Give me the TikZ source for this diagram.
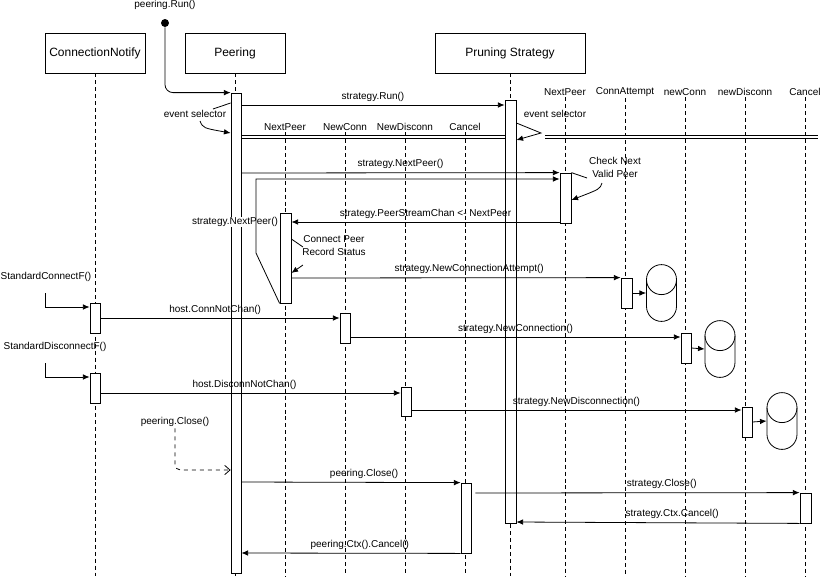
\documentclass[tikz,border=0pt]{standalone}
\usepackage{fontspec}
\setmainfont{Liberation Sans}
\usetikzlibrary{positioning,fit,arrows.meta}

% Datenbank-Zylinder um einen benannten Knoten
\newcommand{\dbdraw}[1]{%
    \draw ([shift={(-15,15)}]#1.north) -- ([shift={(-15,-15)}]#1.south)
        arc[start angle=180, end angle=0, radius=15] -- ([shift={(15,15)}]#1.north);
    \draw ([shift={(0,15)}]#1.north) circle[radius=15];}

\begin{document}
\begin{tikzpicture}[x=0.75pt, y=-0.75pt, line width=0.6pt,
        every node/.style={font=\fontsize{7.5}{9.7}\selectfont, inner sep=1pt},
        head/.style={draw, minimum width=75pt, minimum height=30pt, font=\fontsize{9}{11}\selectfont},
        act/.style={draw, fill=white, inner sep=0pt},
        life/.style={dash pattern=on 3pt off 2.2pt, line width=0.5pt},
        msg/.style={-{Latex[length=5pt,width=4.2pt]}},
        lbl/.style={above=1.5pt},
        dbl/.style={double, double distance=1.8pt},
        dbbox/.style={minimum width=22.5pt, minimum height=42pt, inner sep=0pt}]
    \useasboundingbox (0,0) rectangle (836,576);

    % Kopfboxen und Lebenslinien
    \node[head] (cn) at (95,53) {ConnectionNotify};
    \node[head] (peering) at (235,53) {Peering};
    \node[head, minimum width=112.5pt] (strat) at (510,53) {Pruning Strategy};
    \foreach \n in {cn, peering, strat} { \draw[life] (\n.south) -- (\n.south |- 0,576); }

    \foreach \n/\x/\t in {pNext/285/NextPeer, pConn/345/NewConn, pDisc/405/NewDisconn, pCanc/465/Cancel} {
        \node (\n) at (\x,127) {\t};
        \draw[life] (\n.south) -- (\n.south |- 0,576);
    }
    \foreach \n/\x/\t in {sNext/565/NextPeer, sAtt/625/ConnAttempt, sConn/685/newConn, sDisc/745/newDisconn, sCanc/805/Cancel} {
        \node (\n) at (\x,92) {\t};
        \draw[life] (\n.south) -- (\n.south |- 0,576);
    }

    % Event-Kanaele
    \coordinate (dblStart) at (545,137);
    \coordinate (dblEnd) at (818,137);
    \draw[dbl] (241,137) -- (505,137);
    \draw[dbl] (dblStart) -- (dblEnd);

    % Aktivierungen
    \node[act, fit={(231,93) (241,573)}] (pAct) {};
    \node[act, fit={(505,100) (516,523)}] (sAct) {};
    \node[act, fit={(560,173) (571,223)}] (sNextAct) {};
    \node[act, fit={(280,213) (291,303)}] (pNextAct) {};
    \node[act, fit={(621,278) (632,308)}] (attAct) {};
    \node[act, fit={(90,303) (100,333)}] (cAct1) {};
    \node[act, fit={(340,313) (350,343)}] (pConnAct) {};
    \node[act, fit={(681,333) (691,363)}] (connAct) {};
    \node[act, fit={(90,373) (100,403)}] (cAct2) {};
    \node[act, fit={(401,387) (411,416)}] (pDiscAct) {};
    \node[act, fit={(742,407) (752,437)}] (discAct) {};
    \node[act, fit={(461,483) (471,553)}] (pCancAct) {};
    \node[act, fit={(800,493) (811,523)}] (sCancAct) {};

    \node[dbbox] (db1) at (661.5,293) {};
    \node[dbbox] (db2) at (720,349) {};
    \node[dbbox] (db3) at (782,421) {};
    \dbdraw{db1} \dbdraw{db2} \dbdraw{db3}

    % Start
    \node (runLbl) at (165,5) {peering.Run()};
    \node[circle, fill, inner sep=0pt, minimum size=6pt] (runDot) at (165,23) {};
    \draw[msg, rounded corners=6pt] (runDot) |- (pAct.north west);

    \node (pSel) at (195,114) {event selector};
    \draw (pAct.west |- 0,103) -- (213,109);
    \draw[msg] (200,121) .. controls (203,128) .. (pAct.west |- 0,133);

    \node (sSel) at (555,114) {event selector};
    \draw[msg] (sAct.east |- 0,123) -- (541,133) -- (sAct.east |- 0,140);

    % Nachrichten
    \draw[msg] (pAct.east |- 0,105) -- node[lbl] {strategy.Run()} (sAct.west |- 0,105);
    \draw[msg] (pAct.east |- 0,173) -- node[lbl] {strategy.NextPeer()} (sNextAct.north west);

    \node[fill=white, inner sep=0.5pt] (nxtLbl) at (235,222) {strategy.NextPeer()};
    \draw[msg] (pNextAct.south west) -- (256,253) -- (256,179) -- (sNextAct.west |- 0,179);

    \node[align=center] (chk) at (615,167) {Check Next\\Valid Peer};
    \draw (sNextAct.north east) -- (587,178);
    \draw[msg] (602,183) .. controls (600,189) .. (sNextAct.east |- 0,200);

    \draw[msg] (sNextAct.west |- 0,222) -- node[lbl] {strategy.PeerStreamChan <- NextPeer} (pNextAct.east |- 0,222);

    \node[align=center] (cps) at (334,246) {Connect Peer\\Record Status};
    \draw (pNextAct.east |- 0,239) -- (303,247);
    \draw[msg] (303,265) -- (pNextAct.east |- 0,273);

    \draw[msg] (pNextAct.east |- 0,278) -- node[lbl, pos=0.54] {strategy.NewConnectionAttempt()} (attAct.north west);
    \draw[msg] (attAct.east) -- (db1.west);

    \node (scLbl) at (46,277) {StandardConnectF()};
    \coordinate (scStart) at (45,293);
    \draw[msg] (scStart) |- (cAct1.west |- 0,307);
    \draw[msg] (cAct1.east |- 0,318) -- node[lbl, pos=0.48] {host.ConnNotChan()} (pConnAct.west |- 0,318);
    \draw[msg] (pConnAct.east |- 0,337) -- node[lbl] {strategy.NewConnection()} (connAct.west |- 0,337);
    \draw[msg] (connAct.east) -- (db2.west);

    \node (sdLbl) at (55,347) {StandardDisconnectF()};
    \coordinate (sdStart) at (45,363);
    \draw[msg] (sdStart) |- (cAct2.west |- 0,377);
    \draw[msg] (cAct2.east |- 0,393) -- node[lbl, pos=0.48] {host.DisconnNotChan()} (pDiscAct.west |- 0,393);
    \draw[msg] (pDiscAct.east |- 0,410) -- node[lbl] {strategy.NewDisconnection()} (discAct.west |- 0,410);
    \draw[msg] (discAct.east) -- (db3.west);

    % Schliessen
    \node (pcLbl) at (175,422) {peering.Close()};
    \draw[dashed, -{Straight Barb[length=4pt,width=7pt]}, rounded corners=4pt] (pcLbl.south) |- (pAct.west |- 0,470);
    \draw[msg] (pAct.east |- 0,482) -- node[lbl, pos=0.56] {peering.Close()} (pCancAct.north west);
    \draw[msg] (pCancAct.south west) -- node[lbl, pos=0.46] {peering.Ctx().Cancel()} (pAct.east |- 0,553);
    \draw[msg, shorten <=3pt] (pCancAct.east |- 0,493) -- node[lbl, pos=0.58] {strategy.Close()} (sCancAct.north west);
    \draw[msg] (sCancAct.south west) -- node[lbl, pos=0.45] {strategy.Ctx.Cancel()} (sAct.east |- 0,522);
\end{tikzpicture}
\end{document}
